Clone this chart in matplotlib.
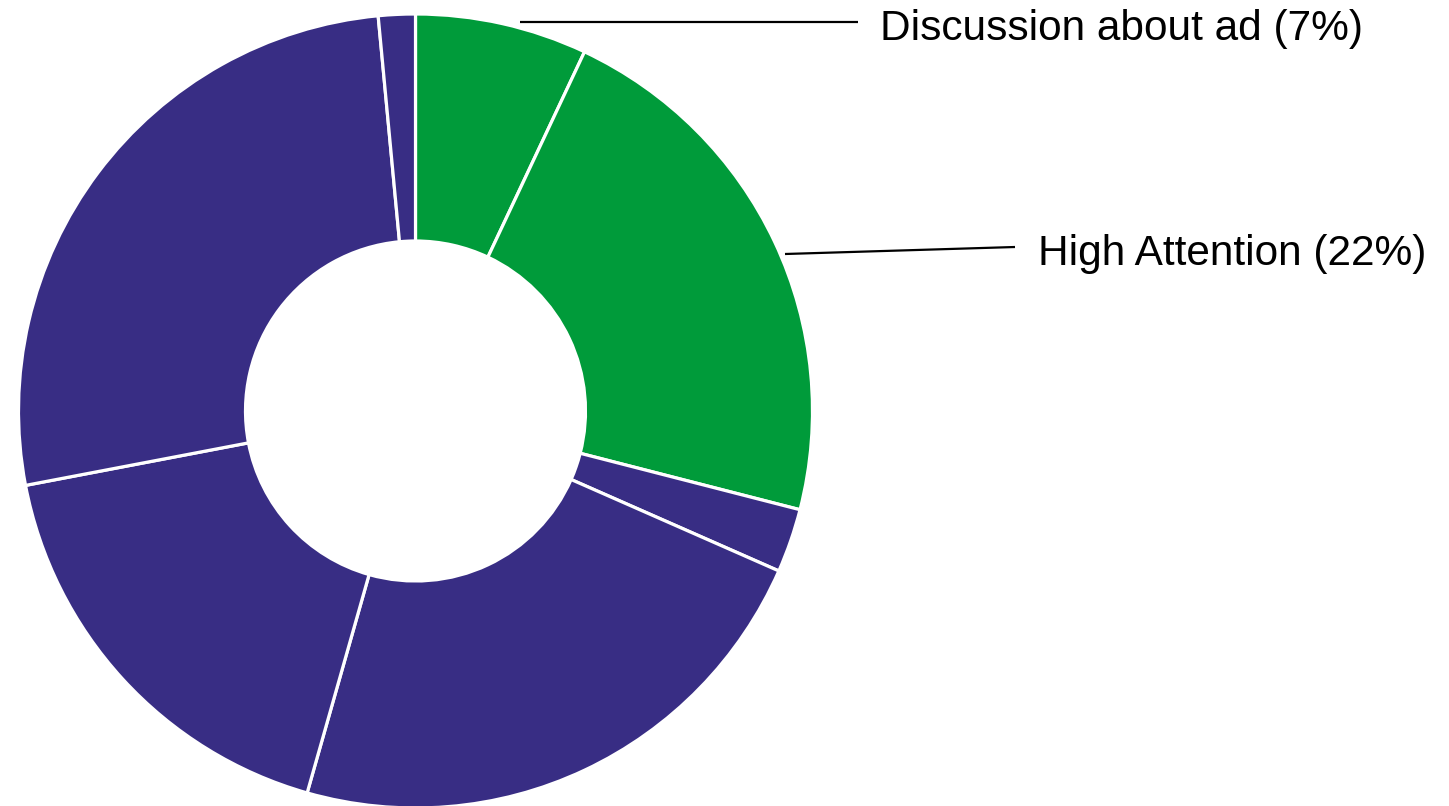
import matplotlib
matplotlib.use("Agg")
import matplotlib.pyplot as plt

# Share of viewers by attention segment, clockwise from 12 o'clock
segments = ["Discussion about ad", "High Attention", "Segment 3", "Segment 4",
            "Segment 5", "Segment 6", "Segment 7"]
shares = [7, 22, 2.6, 22.8, 17.6, 26.5, 1.5]
green = "#009B3A"
purple = "#382D84"
colors = [green, green, purple, purple, purple, purple, purple]

label_texts = ["Discussion about ad (7%)", "High Attention (22%)"]

W, H = 1449, 806
fig = plt.figure(figsize=(W / 100, H / 100), dpi=100)
ax = fig.add_axes([0, 0, 1, 1])

outer_r = 397
inner_r = 170
center = (415.5, H - 411)

ax.pie(shares, colors=colors, startangle=90, counterclock=False,
       center=center, radius=outer_r,
       wedgeprops=dict(width=outer_r - inner_r, edgecolor="white",
                       linewidth=2.3, antialiased=True))

ax.set_xlim(0, W)
ax.set_ylim(0, H)
ax.set_aspect("auto")
ax.axis("off")

font = dict(family=["Liberation Sans", "DejaVu Sans"], fontsize=30.5, color="black")

# Leader lines and callout labels
ax.plot([520, 858], [H - 22, H - 22], color="black", lw=1.6, solid_capstyle="butt")
ax.text(880, H - 29, label_texts[0], ha="left", va="center", **font)

ax.plot([785, 1015], [H - 254, H - 247], color="black", lw=1.6, solid_capstyle="butt")
ax.text(1038, H - 254, label_texts[1], ha="left", va="center", **font)

fig.savefig("out.png", dpi=100, facecolor="white")
